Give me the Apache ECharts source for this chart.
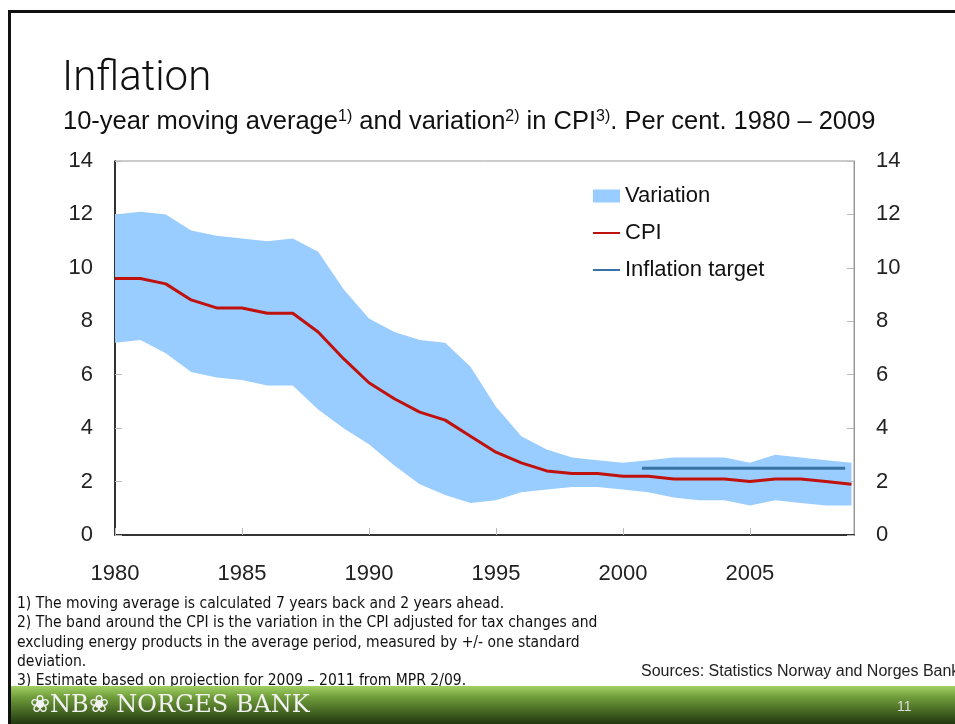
<!doctype html>
<html lang="en">
<head>
    <meta charset="UTF-8">
    <title>Inflation</title>
    <style>
        html, body { margin: 0; padding: 0; background: #fff; }
        #chart { width: 955px; height: 724px; }
    </style>
</head>
<body>
    <script src="https://cdn.jsdelivr.net/npm/echarts@6/dist/echarts.min.js"></script>
    <div id="chart"></div>

    <script>
        // values
        var years = [1980, 1981, 1982, 1983, 1984, 1985, 1986, 1987, 1988, 1989,
                     1990, 1991, 1992, 1993, 1994, 1995, 1996, 1997, 1998, 1999,
                     2000, 2001, 2002, 2003, 2004, 2005, 2006, 2007, 2008, 2009];
        var cpi = [9.6, 9.6, 9.4, 8.8, 8.5, 8.5, 8.3, 8.3, 7.6, 6.6,
                   5.7, 5.1, 4.6, 4.3, 3.7, 3.1, 2.7, 2.4, 2.3, 2.3,
                   2.2, 2.2, 2.1, 2.1, 2.1, 2.0, 2.1, 2.1, 2.0, 1.9];
        var bandUpper = [12.0, 12.1, 12.0, 11.4, 11.2, 11.1, 11.0, 11.1, 10.6, 9.2,
                         8.1, 7.6, 7.3, 7.2, 6.3, 4.8, 3.7, 3.2, 2.9, 2.8,
                         2.7, 2.8, 2.9, 2.9, 2.9, 2.7, 3.0, 2.9, 2.8, 2.7];
        var bandLower = [7.2, 7.3, 6.8, 6.1, 5.9, 5.8, 5.6, 5.6, 4.7, 4.0,
                         3.4, 2.6, 1.9, 1.5, 1.2, 1.3, 1.6, 1.7, 1.8, 1.8,
                         1.7, 1.6, 1.4, 1.3, 1.3, 1.1, 1.3, 1.2, 1.1, 1.1];
        var targetYears = [2000.75, 2008.75];
        var targetValues = [2.5, 2.5];

        var footnotes = [
            '1) The moving average is calculated 7 years back and 2 years ahead.',
            '2) The band around the CPI is the variation in the CPI adjusted for tax changes and',
            'excluding energy products in the average period, measured by +/- one standard',
            'deviation.',
            '3) Estimate based on projection for 2009 \u2013 2011 from MPR 2/09.'
        ];

        var font = '"Liberation Sans", Arial, sans-serif';

        var chart = echarts.init(document.getElementById('chart'));

        var option = {
            animation: false,
            backgroundColor: '#fff',
            textStyle: { fontFamily: font },
            grid: {
                left: 115, right: 101, top: 161, bottom: 189,
                show: true, borderColor: '#999', borderWidth: 1
            },
            legend: {
                orient: 'vertical',
                left: 592, top: 185, padding: 0,
                itemWidth: 27, itemHeight: 13, itemGap: 15,
                textStyle: { fontSize: 22, color: '#111', fontFamily: font },
                data: [
                    { name: 'Variation', icon: 'rect' },
                    { name: 'CPI', itemStyle: { opacity: 0 } },
                    { name: 'Inflation target', itemStyle: { opacity: 0 } }
                ]
            },
            xAxis: {
                type: 'value',
                min: 1980, max: 2009.1, interval: 5,
                splitLine: { show: false },
                axisLine: { lineStyle: { color: '#000', width: 1.5 } },
                axisTick: { inside: true, length: 7, lineStyle: { color: '#bbb' } },
                axisLabel: {
                    fontSize: 22, color: '#222', margin: 28,
                    showMaxLabel: false,
                    formatter: function (v) { return v % 5 === 0 ? String(v) : ''; }
                }
            },
            yAxis: [{
                type: 'value', min: 0, max: 14, interval: 2,
                splitLine: { show: false },
                axisLine: { show: true, lineStyle: { color: '#000', width: 1.5 } },
                axisTick: { show: true, inside: true, length: 7, lineStyle: { color: '#bbb' } },
                axisLabel: { fontSize: 22, color: '#222', margin: 22 }
            }, {
                type: 'value', min: 0, max: 14, interval: 2, position: 'right',
                splitLine: { show: false },
                axisLine: { show: true, lineStyle: { color: '#999', width: 1 } },
                axisTick: { show: true, inside: true, length: 7, lineStyle: { color: '#bbb' } },
                axisLabel: { fontSize: 22, color: '#222', margin: 22 }
            }],
            series: [{
                name: 'Variation',
                type: 'custom',
                itemStyle: { color: '#99CCFF' },
                data: years.map(function (y, i) { return [y, bandLower[i], bandUpper[i]]; }),
                encode: { x: 0, y: [1, 2] },
                renderItem: function (params, api) {
                    if (params.dataIndex !== 0) return null;
                    var pts = [];
                    for (var i = 0; i < years.length; i++) pts.push(api.coord([years[i], bandUpper[i]]));
                    for (var j = years.length - 1; j >= 0; j--) pts.push(api.coord([years[j], bandLower[j]]));
                    return { type: 'polygon', shape: { points: pts }, style: { fill: '#99CCFF' } };
                },
                z: 1
            }, {
                name: 'CPI',
                type: 'line',
                symbol: 'none',
                data: years.map(function (y, i) { return [y, cpi[i]]; }),
                lineStyle: { color: '#C0120C', width: 3 },
                itemStyle: { color: '#C0120C' },
                z: 3
            }, {
                name: 'Inflation target',
                type: 'line',
                symbol: 'none',
                data: targetYears.map(function (y, i) { return [y, targetValues[i]]; }),
                lineStyle: { color: '#3A72A6', width: 3 },
                itemStyle: { color: '#3A72A6' },
                z: 3
            }],
            graphic: [
                // slide frame
                { type: 'rect', shape: { x: 8, y: 10, width: 947, height: 3 }, style: { fill: '#111' } },
                { type: 'rect', shape: { x: 8, y: 10, width: 3, height: 714 }, style: { fill: '#111' } },
                {
                    type: 'text', x: 62, y: 79,
                    style: {
                        text: 'Inflation', fontSize: 42, fontWeight: 300,
                        fontFamily: 'Roboto, "Liberation Sans", sans-serif',
                        fill: '#111', verticalAlign: 'middle'
                    }
                },
                {
                    type: 'text', x: 63, y: 122,
                    style: {
                        text: '10-year moving average{s|1)} and variation{s|2)} in CPI{s|3)}. Per cent. 1980 \u2013 2009',
                        fontSize: 25.5, fontFamily: font, fill: '#111', verticalAlign: 'middle',
                        rich: { s: { fontSize: 16, verticalAlign: 'top', lineHeight: 16, fontFamily: font, fill: '#111' } }
                    }
                },
                {
                    type: 'text', x: 17, y: 594,
                    style: {
                        text: footnotes.join('\n'), fontSize: 15.5, lineHeight: 19.4,
                        fontFamily: '"Liberation Sans Narrow", "DejaVu Sans Condensed", sans-serif',
                        fill: '#111'
                    }
                },
                {
                    type: 'text', x: 641, y: 672,
                    style: { text: 'Sources: Statistics Norway and Norges Bank', fontSize: 16, fontFamily: font, fill: '#222', verticalAlign: 'middle' }
                },
                // green footer bar
                {
                    type: 'rect', shape: { x: 11, y: 686, width: 944, height: 38 },
                    style: {
                        fill: new echarts.graphic.LinearGradient(0, 0, 0, 1, [
                            { offset: 0, color: '#a2d064' },
                            { offset: 0.3, color: '#6f9c3a' },
                            { offset: 1, color: '#22380f' }
                        ])
                    }
                },
                {
                    type: 'text', x: 30, y: 706,
                    style: {
                        text: '\u2740NB\u2740 NORGES BANK', fontSize: 24,
                        fontFamily: '"DejaVu Serif", serif', fill: '#f2f2f2', verticalAlign: 'middle'
                    }
                },
                {
                    type: 'text', x: 897, y: 707,
                    style: { text: '11', fontSize: 14, fontFamily: '"Liberation Sans Narrow", sans-serif', fill: '#ddd', verticalAlign: 'middle' }
                }
            ]
        };

        chart.setOption(option);
    </script>
</body>
</html>
